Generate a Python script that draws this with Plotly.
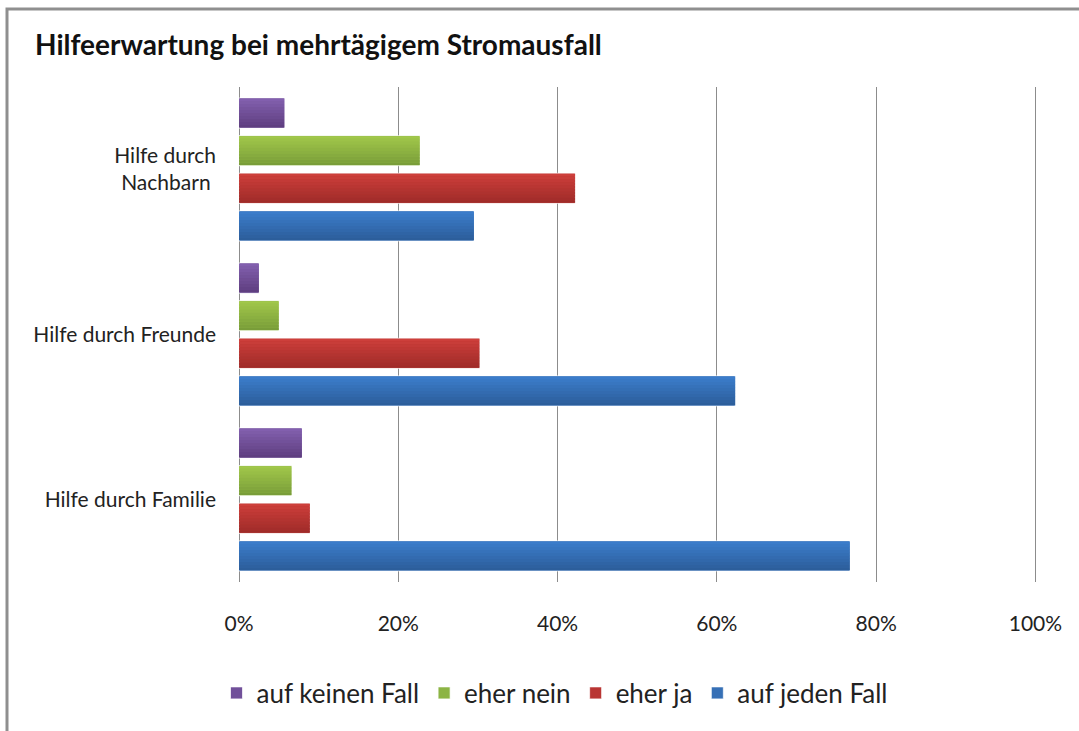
import plotly.graph_objects as go

# Data (in percent)
categories = ["Hilfe durch Familie", "Hilfe durch Freunde", "Hilfe durch<br>Nachbarn\u00a0"]
series_names = ["auf jeden Fall", "eher ja", "eher nein", "auf keinen Fall"]
auf_jeden_fall = [76.7, 62.3, 29.5]
eher_ja = [8.9, 30.2, 42.2]
eher_nein = [6.6, 5.0, 22.7]
auf_keinen_fall = [7.9, 2.5, 5.7]
x_ticks = [0, 20, 40, 60, 80, 100]
x_tick_labels = ["0%", "20%", "40%", "60%", "80%", "100%"]

values = [auf_jeden_fall, eher_ja, eher_nein, auf_keinen_fall]

# style: gradient (top colour, bottom colour) per series
color_top = [(0x3C, 0x7E, 0xCD), (0xD0, 0x40, 0x3C), (0xA3, 0xC9, 0x4B), (0x84, 0x61, 0xB0)]
color_bot = [(0x2B, 0x5C, 0x98), (0x9C, 0x2A, 0x28), (0x77, 0x9B, 0x38), (0x5D, 0x3D, 0x7E)]
legend_colors = ["#3670B6", "#B93533", "#8CB444", "#71509A"]

FONT = "Lato"

BARGAP = 0.088
GROUPGAP = 0.2
N_STRIPS = 10
n_series = len(series_names)
slot = (1 - BARGAP) / n_series
bar_w = slot * (1 - GROUPGAP)


def mix(c1, c2, t):
    return "rgb(%d,%d,%d)" % tuple(round(a + (b - a) * t) for a, b in zip(c1, c2))


fig = go.Figure()
for k, (name, vals) in enumerate(zip(series_names, values)):
    start = -(1 - BARGAP) / 2 + k * slot + (slot - bar_w) / 2
    # full bar (carries the legend entry and a light edge)
    fig.add_trace(go.Bar(
        y=categories, x=vals, name=name, orientation="h",
        offset=start, width=bar_w,
        marker=dict(color=legend_colors[k], line=dict(color="rgba(255,255,255,0.7)", width=1)),
        hoverinfo="x+name",
        legendrank=1000 - k,
    ))
    # gradient strips (bottom = dark, top = light)
    sw = bar_w / N_STRIPS
    for i in range(N_STRIPS):
        t = (i + 0.5) / N_STRIPS
        fig.add_trace(go.Bar(
            y=categories, x=vals, orientation="h", showlegend=False,
            offset=start + i * sw + (0.004 if i == 0 else 0),
            width=sw - (0.004 if i in (0, N_STRIPS - 1) else 0) + 0.0005,
            marker=dict(color=mix(color_bot[k], color_top[k], t), line=dict(width=0)),
            hoverinfo="skip",
        ))

W, H = 1079, 731
L, R, T, B = 239, 42, 87, 149
pw, ph = W - L - R, H - T - B


def px_x(p):
    return (p - L) / pw


def px_y(p):
    return (H - B - p) / ph


fig.update_layout(
    width=W, height=H,
    margin=dict(l=L, r=R, t=T, b=B, autoexpand=False),
    paper_bgcolor="white", plot_bgcolor="white",
    barmode="group",
    font=dict(family=FONT, color="#222222", size=21),
    title=dict(text="<b>Hilfeerwartung bei mehrtägigem Stromausfall</b>",
               x=35 / W, xanchor="left", xref="container",
               y=1 - 45 / H, yanchor="middle", yref="container",
               font=dict(family=FONT, size=28, color="#111111")),
    xaxis=dict(range=[0, 100.2], tickvals=x_ticks, ticktext=x_tick_labels,
               showgrid=True, gridcolor="#8C8C8C", gridwidth=1,
               zeroline=True, zerolinecolor="#8C8C8C", zerolinewidth=1,
               showline=False, ticks="", ticklabelstandoff=27,
               tickfont=dict(size=21, color="#222222"), fixedrange=True),
    yaxis=dict(showgrid=False, zeroline=False, showline=False, ticks="",
               ticklabelstandoff=22, tickfont=dict(size=21, color="#222222"),
               fixedrange=True),
    legend=dict(orientation="h", traceorder="normal",
                x=px_x(555), xanchor="center", y=px_y(693), yanchor="middle",
                font=dict(size=26, color="#222222"), itemclick=False),
    shapes=[dict(type="rect", xref="paper", yref="paper",
                 x0=px_x(7), x1=px_x(1090), y0=px_y(745), y1=px_y(9),
                 line=dict(color="#8F8F8F", width=3), fillcolor="rgba(0,0,0,0)",
                 layer="below")],
)

fig.write_html("out.html",
               config={"displayModeBar": False},
               post_script="document.body.style.margin='0';document.body.style.overflow='hidden';")
